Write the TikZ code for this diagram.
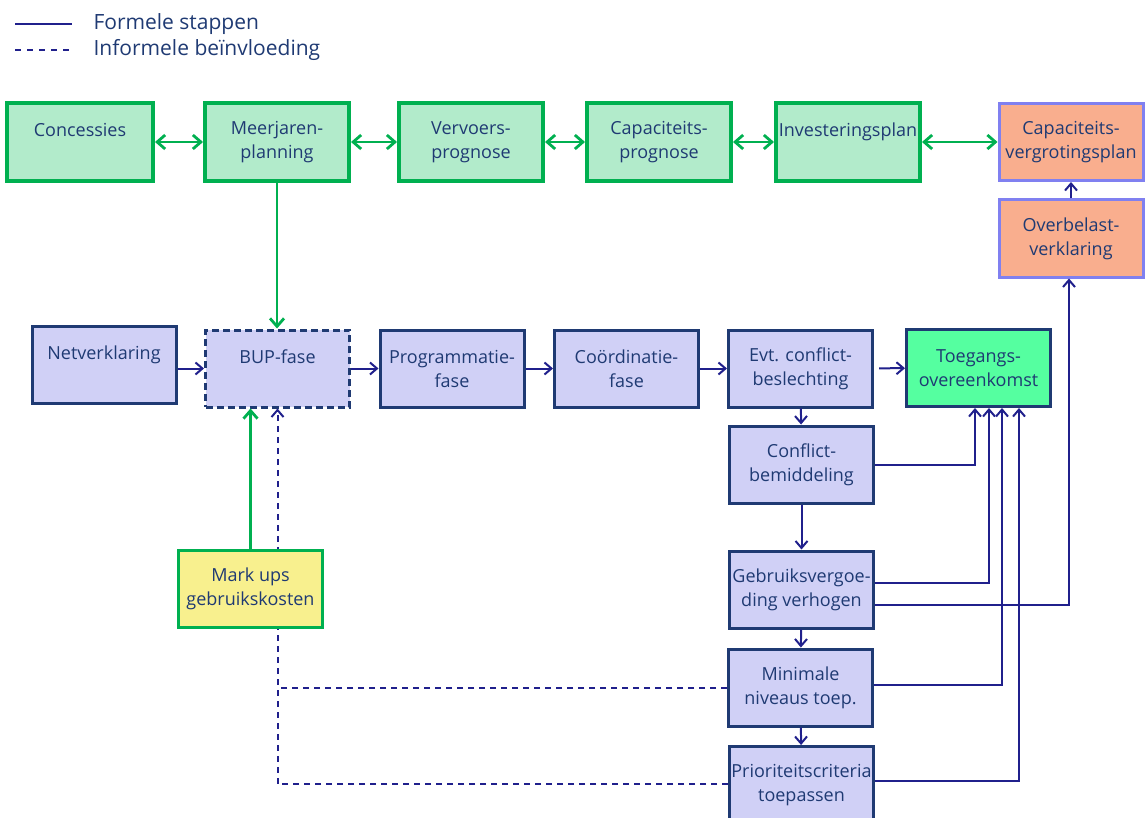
\documentclass[tikz,border=0pt]{standalone}
\usepackage{fontspec}
\setmainfont{Open Sans}
\usetikzlibrary{arrows.meta}

\definecolor{grnline}{HTML}{00B050}
\definecolor{grnfill}{HTML}{B2EBCB}
\definecolor{blufill}{HTML}{D0D0F6}
\definecolor{bluline}{HTML}{1F3A73}
\definecolor{orgfill}{HTML}{F9AE8E}
\definecolor{orgline}{HTML}{8080F0}
\definecolor{toegfill}{HTML}{55FFA0}
\definecolor{markfill}{HTML}{F8F08E}
\definecolor{navy}{HTML}{20208C}
\definecolor{txtcol}{HTML}{1F3A73}

\begin{document}
\begin{tikzpicture}[x=1pt,y=-1pt,
      box/.style={minimum width=144pt, minimum height=77pt, inner sep=0pt, align=center, text=txtcol, font={\fontsize{18}{24}\selectfont}},
      greenbox/.style={box, draw=grnline, line width=4pt, fill=grnfill, minimum height=78pt},
      stepbox/.style={box, draw=bluline, line width=3pt, fill=blufill},
      orangebox/.style={box, draw=orgline, line width=3pt, fill=orgfill},
      formal/.style={-{Straight Barb[length=7pt,width=12pt]}, navy, line width=2pt},
      informal/.style={formal, dash pattern=on 6pt off 5pt},
      planlink/.style={{Straight Barb[length=8pt,width=14pt]}-{Straight Barb[length=8pt,width=14pt]}, grnline, line width=2.8pt},
      grnflow/.style={-{Straight Barb[length=8pt,width=14pt]}, grnline, line width=2.8pt},
      legend/.style={anchor=west, text=txtcol, font={\fontsize{21}{24}\selectfont}}]

    \useasboundingbox (0,0) rectangle (1145,818);

    %draw legend
    \node[legend] (lgformal) at (90,24) {Formele stappen};
    \node[legend] (lginformal) at (90,50) {Informele beïnvloeding};
    \draw[navy, line width=1.8pt] ([xshift=-75pt]lgformal.west) -- ([xshift=-18pt]lgformal.west);
    \draw[navy, line width=1.8pt, dash pattern=on 6pt off 6pt] ([xshift=-75pt]lginformal.west) -- ([xshift=-18pt]lginformal.west);

    %draw planning row
    \node[greenbox, minimum width=146pt] (conc) at (80,142) {Concessies\\\mbox{}};
    \node[greenbox] (meer) at (277,142) {Meerjaren-\\planning};
    \node[greenbox] (verv) at (471,142) {Vervoers-\\prognose};
    \node[greenbox] (capp) at (659,142) {Capaciteits-\\prognose};
    \node[greenbox] (inv) at (848,142) {Investeringsplan\\\mbox{}};
    \node[orangebox] (capv) at (1071,142) {Capaciteits-\\vergrotingsplan};
    \node[orangebox] (overb) at (1071,238.5) {Overbelast-\\verklaring};

    \draw[planlink] (conc) -- (meer);
    \draw[planlink] (meer) -- (verv);
    \draw[planlink] (verv) -- (capp);
    \draw[planlink] (capp) -- (inv);
    \draw[planlink] (inv) -- (capv);

    %draw allocation row
    \node[stepbox] (net) at (104,364.5) {Netverklaring\\\mbox{}};
    \node[stepbox, dash pattern=on 7pt off 4pt] (bup) at (277.5,368.5) {BUP-fase\\\mbox{}};
    \node[stepbox] (prog) at (452,368.5) {Programmatie-\\fase};
    \node[stepbox] (coord) at (626.5,368.5) {Coördinatie-\\fase};
    \node[stepbox] (evt) at (800.5,368.5) {Evt. conflict-\\beslechting};
    \node[stepbox, fill=toegfill] (toeg) at (978.5,368) {Toegangs-\\overeenkomst};

    %draw conflict column
    \node[stepbox] (confl) at (801.5,464.5) {Conflict-\\bemiddeling};
    \node[stepbox] (gebr) at (801.5,589.5) {Gebruiksvergoe-\\ding verhogen};
    \node[stepbox] (mini) at (800.5,687.5) {Minimale\\niveaus toep.};
    \node[stepbox] (prio) at (801.5,785) {Prioriteitscriteria\\toepassen};

    \draw[formal] (net.east |- bup.west) -- (bup.west);
    \draw[formal] (bup) -- (prog);
    \draw[formal] (prog) -- (coord);
    \draw[formal] (coord) -- (evt);
    \draw[formal, shorten <=5pt] (evt) -- (toeg);
    \draw[formal] (evt) -- (confl);
    \draw[formal] (confl) -- (gebr);
    \draw[formal] (gebr) -- (mini);
    \draw[formal] (mini) -- (prio);

    \draw[formal] (confl.east) -| ([xshift=-3.5pt]toeg.south);
    \draw[formal] ([yshift=6.5pt]gebr.east) -| ([xshift=10.5pt]toeg.south);
    \draw[formal] ([yshift=2.5pt]mini.east) -| ([xshift=23.5pt]toeg.south);
    \draw[formal] ([yshift=4pt]prio.east) -| ([xshift=40.5pt]toeg.south);
    \draw[formal] ([yshift=-15.5pt]gebr.east) -| ([xshift=-2pt]overb.south);
    \draw[formal] (overb) -- (capv);

    %draw informal influence
    \draw[informal] ([yshift=1pt]prio.west) -| (bup.south);
    \draw[informal, -] ([yshift=-0.5pt]mini.west) -- ([yshift=-0.5pt]mini.west -| bup.south);

    %draw mark ups
    \node[box, draw=grnline, line width=3pt, fill=markfill] (mark) at (250.5,589) {Mark ups\\gebruikskosten};
    \draw[grnflow] (mark.north) -- (mark.north |- bup.south);
    \draw[grnflow] (meer.south) -- (meer.south |- bup.north);

\end{tikzpicture}
\end{document}
